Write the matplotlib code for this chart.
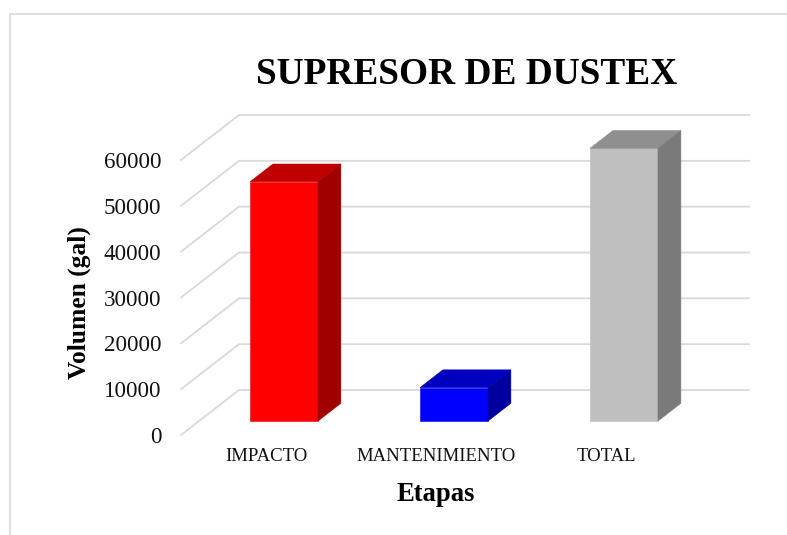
import matplotlib
matplotlib.use("Agg")
import matplotlib.pyplot as plt
from matplotlib.lines import Line2D

categories = ["IMPACTO", "MANTENIMIENTO", "TOTAL"]
values = [52200, 7290, 59500]
front_colors = ["#ff0000", "#0000ff", "#bfbfbf"]
top_colors = ["#c00000", "#0000c0", "#8f8f8f"]
side_colors = ["#a00000", "#00009f", "#7a7a7a"]
y_ticks = [0, 10000, 20000, 30000, 40000, 50000, 60000]

W, H = 787, 535
plt.rcParams["font.family"] = ["Liberation Serif", "DejaVu Serif"]
fig = plt.figure(figsize=(W / 100, H / 100), dpi=100)
L, R, T, B = 181, 691, 160, 435
ax = fig.add_axes([L / W, 1 - B / H, (R - L) / W, (B - T) / H])
ax.set_xlim(0, 3)
ax.set_ylim(0, 60000)
for s in ax.spines.values():
    s.set_visible(False)
ax.patch.set_visible(False)

DX = 58 / 170          # floor depth in category units
DY = 45 / 275 * 60000  # floor depth in value units


def proj(x, y, d):
    return x + DX * d, y + DY * d


GRID = "#d9d9d9"
for v in y_ticks:
    x0, y0 = proj(0, v, 0)
    x1, y1 = proj(0, v, 1)
    x2, y2 = proj(3, v, 1)
    ax.plot([x0, x1, x2], [y0, y1, y2], color=GRID, lw=1.3, clip_on=False,
            zorder=1, solid_joinstyle="miter")

BAR_W, D0, D1 = 0.40, 0.31, 0.705
for i, v in enumerate(values):
    xl, xr = i + 0.5 - BAR_W / 2, i + 0.5 + BAR_W / 2
    a = proj(xl, 0, D0)
    b = proj(xr, 0, D0)
    c = proj(xr, v, D0)
    e = proj(xl, v, D0)
    f = proj(xl, v, D1)
    g = proj(xr, v, D1)
    h = proj(xr, 0, D1)
    for pts, col in (((a, b, c, e), front_colors[i]),
                     ((e, c, g, f), top_colors[i]),
                     ((b, h, g, c), side_colors[i])):
        ax.fill([p[0] for p in pts], [p[1] for p in pts], facecolor=col,
                edgecolor=col, lw=0.4, clip_on=False, zorder=3)

ax.set_xticks([i + 0.5 for i in range(len(categories))], categories)
ax.set_yticks(y_ticks, [str(v) for v in y_ticks])
ax.tick_params(axis="x", length=0, pad=9.5, labelsize=13.5, labelcolor="#111111")
ax.tick_params(axis="y", length=0, pad=14, labelsize=16.6, labelcolor="#111111")

ax.set_xlabel("Etapas", fontsize=19.2, fontweight="bold")
ax.xaxis.set_label_coords(0.5, (B - 482) / (B - T), transform=ax.transAxes)
ax.xaxis.label.set_verticalalignment("top")
ax.set_ylabel("Volumen (gal)", fontsize=18.4, fontweight="bold")
ax.yaxis.set_label_coords((91 - L) / (R - L), (B - 303) / (B - T))
fig.text(467 / W, 1 - 84 / H, "SUPRESOR DE DUSTEX", ha="center", va="baseline",
         fontsize=26.9, fontweight="bold", color="black")

fig.add_artist(Line2D([9.5 / W, 9.5 / W, 1], [0, 1 - 13.5 / H, 1 - 13.5 / H],
                      color="#d9d9d9", lw=1.2, transform=fig.transFigure,
                      solid_joinstyle="miter"))
fig.savefig("out.png", dpi=100)
